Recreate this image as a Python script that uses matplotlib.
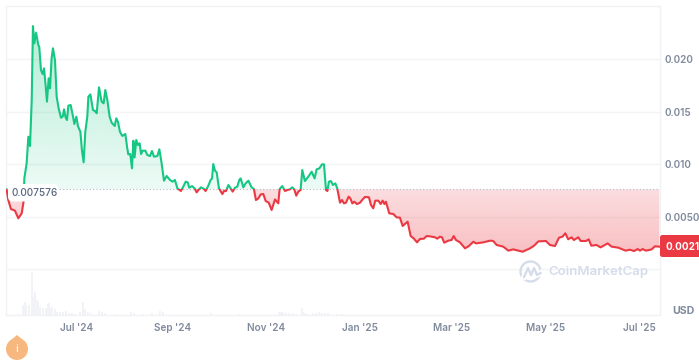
import numpy as np
from matplotlib import pyplot as plt
from matplotlib.colors import to_rgb
from matplotlib.patches import Rectangle, FancyBboxPatch, Circle, Arc, Polygon

plt.rcParams['font.family'] = ['Inter', 'DejaVu Sans']

# days since 1 Jul 2024
days = [-45.7, -44.6, -42.9, -40.3, -38.1, -35.9, -34.6, -34.4, -34.2, -32.7, -31.6, -30.5, -29.4, -28.6, -27.7, -26.6,
        -25.1, -24.5, -23.4, -22.3, -21.4, -20.3, -19.5, -18.4, -17.5, -16.5, -15.6, -14.3, -13.2, -11.9, -10.4, -9.3,
        -8.4, -7.4, -6.5, -5.6, -4.1, -2.8, -1.7, -0.4, 0.6, 2.2, 3.2, 4.3, 5.4, 6.7, 7.4, 8.7, 10.4, 11.7, 12.8, 14.3,
        16.0, 17.3, 18.4, 19.7, 21.2, 22.5, 24.5, 25.5, 26.6, 27.9, 29.4, 31.4, 32.5, 33.3, 34.6, 35.7, 36.6, 37.4,
        38.5, 39.6, 40.7, 41.6, 42.6, 44.4, 45.7, 47.4, 48.7, 50.0, 52.2, 53.5, 54.8, 56.5, 58.2, 60.4, 62.1, 63.6,
        65.2, 67.5, 69.0, 70.6, 71.9, 72.9, 74.7, 76.4, 77.7, 79.2, 80.5, 82.3, 83.5, 85.3, 86.8, 87.7, 88.5, 89.6,
        90.7, 92.2, 94.4, 95.5, 96.8, 98.3, 99.8, 101.1, 102.6, 104.1, 105.4, 106.3, 108.0, 109.5, 111.3, 113.4, 114.9,
        116.2, 117.8, 119.3, 121.0, 122.5, 124.5, 126.4, 128.6, 130.7, 131.6, 133.3, 135.1, 136.6, 138.3, 139.8, 141.1,
        142.4, 143.7, 145.2, 146.3, 148.0, 150.2, 152.4, 154.3, 155.6, 157.4, 159.1, 160.4, 161.7, 162.6, 163.6, 164.9,
        166.2, 167.8, 169.0, 170.8, 172.1, 173.4, 174.7, 176.4, 177.5, 178.8, 180.1, 181.8, 183.8, 185.5, 187.0, 189.6,
        190.9, 192.4, 193.7, 195.7, 197.2, 198.5, 199.6, 200.6, 202.8, 205.4, 207.6, 209.7, 211.5, 214.7, 216.7, 218.8,
        220.8, 222.7, 225.3, 227.0, 229.2, 232.5, 234.0, 235.7, 237.0, 238.5, 241.1, 243.3, 244.6, 246.1, 248.7, 252.0,
        254.5, 257.4, 259.1, 263.9, 268.2, 270.3, 272.5, 276.8, 280.1, 283.3, 286.6, 289.4, 294.2, 296.8, 299.6, 304.5,
        307.1, 310.4, 313.0, 315.3, 317.1, 319.0, 321.2, 322.7, 325.5, 327.1, 330.5, 332.3, 334.0, 337.4, 340.0, 344.6,
        347.2, 351.5, 356.3, 359.1, 361.7, 364.1, 365.6, 367.3, 369.5, 373.2, 375.3, 378.2]
prices = [.007576, .00657, .00571, .00556, .00483, .00530, .00651, .007576, .00863, .01006, .01260, .01171, .01610, .02314, .02149, .02251,
          .02133, .02117, .01895, .01857, .01911, .01737, .01594, .01816, .01721, .02006, .02102, .01990, .01641, .01530, .01441, .01451,
          .01521, .01444, .01419, .01556, .01562, .01467, .01381, .01451, .01362, .01308, .01133, .01016, .01308, .01451, .01641, .01663, .01514, .01505, .01483, .01730,
          .01594, .01578, .01705, .01610, .01451, .01394, .01362, .01435, .01403, .01308, .01267, .01286, .01165, .01092, .01095, .00959, .01222, .01063,
          .01229, .01181, .01197, .01095, .01127, .01127, .01086, .01076, .01124, .01070, .01076, .01140, .01022, .00841, .00886, .00848, .00832, .00848,
          .00768, .00743, .00784, .00832, .00825, .00775, .00790, .00768, .00730, .00759, .00778, .00765, .00743, .00794, .00848, .00863, .01000, .00937,
          .00921, .00768, .00714, .00743, .00743, .00800, .00768, .00737, .00775, .00784, .00848, .00863, .00778, .00816, .00841, .00778, .00762,
          .00657, .00673, .00711, .00714, .00648, .00632, .00562, .00663, .00625, .00762, .00790, .00743, .00752, .00759, .00778, .00759,
          .00698, .00737, .00752, .00943, .00838, .00879, .00927, .00863, .00949, .00959, .00997, .00997, .00752, .00743, .00832, .00838,
          .00800, .00816, .00768, .00632, .00657, .00625, .00632, .00689, .00673, .00625, .00641, .00619, .00632, .00663, .00686, .00683,
          .00610, .00578, .00651, .00651, .00619, .00651, .00619, .00641, .00530, .00524, .00492, .00489, .00410, .00451, .00314, .00289,
          .00254, .00286, .00289, .00314, .00311, .00302, .00289, .00308, .00302, .00251, .00270, .00276, .00314, .00276, .00254, .00197,
          .00219, .00260, .00244, .00254, .00270, .00267, .00229, .00213, .00175, .00187, .00175, .00165, .00197, .00222, .00263, .00267,
          .00229, .00219, .00298, .00308, .00340, .00283, .00302, .00276, .00302, .00267, .00267, .00283, .00222, .00229, .00206, .00244,
          .00213, .00203, .00175, .00184, .00171, .00190, .00175, .00190, .00175, .00187, .00216, .00213]

vol_days = [-38, -35, -34, -33, -31, -29, -28, -27, -26, -25, -24, -22, -20, -19, -18, -17, -16, -14, -13, -11, -9, -7, -5, -3, -1, 2, 4, 5,
            7, 9, 14, 16, 18, 25, 35, 37, 43, 49, 54, 56, 87, 105, 131, 132, 133, 134, 136, 138, 140, 142, 146, 147, 148, 150,
            153, 155, 157, 159, 161, 163, 169, 172]
vol_values = [3, 30, 38, 28, 30, 130, 55, 68, 45, 40, 25, 20, 22, 33, 35, 20, 25, 18, 10, 8, 8, 12, 5, 5, 4, 8, 38, 18,
              8, 5, 12, 8, 7, 3, 10, 5, 4, 5, 12, 8, 6, 3, 8, 10, 10, 9, 7, 6, 5, 4, 22, 8, 6, 4,
              5, 7, 8, 7, 7, 5, 3, 3]

yticks = [0, 0.005, 0.010, 0.015, 0.020]
ytick_labels = ['', '0.0050', '0.010', '0.015', '0.020']
xticks = [0, 62, 123, 184, 243, 304, 365]
xtick_labels = ["Jul '24", "Sep '24", "Nov '24", "Jan '25", "Mar '25", "May '25", "Jul '25"]
base_price = 0.007576
last_label = '0.0021'

W, H = 699, 361
L, R, T, B = 6, 660, 6, 315
xlim = (-46.1, 378.6)
ylim = (-0.00438, 0.02505)
green = '#16c784'
red = '#ea3943'
grey = '#808a9d'
border = '#f0f2f5'

fig = plt.figure(figsize=(W / 100, H / 100), dpi=100)

# volume strip sits under the price panel
axv = fig.add_axes([L / W, 1 - B / H, (R - L) / W, 46 / H])
axv.bar(vol_days, vol_values, width=1.3, color='#f1f3f6')
axv.set_xlim(xlim)
axv.set_ylim(0, 138)
axv.axis('off')

ax = fig.add_axes([L / W, 1 - B / H, (R - L) / W, (B - T) / H])
ax.patch.set_alpha(0)
ax.set_xlim(xlim)
ax.set_ylim(ylim)
ax.set_yticks(yticks)
ax.set_yticklabels(ytick_labels)
ax.set_xticks(xticks)
ax.set_xticklabels(xtick_labels)
ax.yaxis.tick_right()
ax.tick_params(length=0, labelcolor=grey, labelsize=7.2)
ax.tick_params(axis='x', pad=6)
ax.tick_params(axis='y', pad=3.5)
for lab in ax.get_xticklabels() + ax.get_yticklabels():
    lab.set_fontweight('semibold')
ax.grid(axis='y', color='#f3f4f6', lw=1)
ax.set_axisbelow(True)
for s in ax.spines.values():
    s.set_color(border)
    s.set_linewidth(1)

# gradient fills clipped to the area between line and base price
top = max(prices)
grad_g = np.zeros((256, 2, 4))
grad_g[..., :3] = to_rgb(green)
grad_g[..., 3] = np.linspace(0.08, 0.32, 256)[:, None]
im = ax.imshow(grad_g, origin='lower', aspect='auto', extent=[xlim[0], xlim[1], base_price, top], zorder=1)
up = np.maximum(prices, base_price)
poly_g = ax.fill_between(days, up, base_price, color='none')
im.set_clip_path(poly_g.get_paths()[0], ax.transData)

low = min(prices)
grad_r = np.zeros((256, 2, 4))
grad_r[..., :3] = to_rgb(red)
grad_r[..., 3] = np.linspace(0.32, 0.17, 256)[:, None]
im2 = ax.imshow(grad_r, origin='lower', aspect='auto', extent=[xlim[0], xlim[1], low, base_price], zorder=1)
down = np.minimum(prices, base_price)
poly_r = ax.fill_between(days, down, base_price, color='none')
im2.set_clip_path(poly_r.get_paths()[0], ax.transData)
ax.set_xlim(xlim)
ax.set_ylim(ylim)

ax.plot([xlim[0], xlim[1]], [base_price, base_price], color='#b3bac7', lw=0.8, ls=(0, (1, 2)), zorder=2)

line_g, = ax.plot(days, prices, color=green, lw=1.5, zorder=3, solid_joinstyle='round')
line_r, = ax.plot(days, prices, color=red, lw=1.5, zorder=3, solid_joinstyle='round')
line_g.set_clip_path(Rectangle((xlim[0], base_price), xlim[1] - xlim[0], ylim[1] - base_price, transform=ax.transData))
line_r.set_clip_path(Rectangle((xlim[0], ylim[0]), xlim[1] - xlim[0], base_price - ylim[0], transform=ax.transData))

# overlay in pixels for labels and decorations
ov = fig.add_axes([0, 0, 1, 1])
ov.set_xlim(0, W)
ov.set_ylim(H, 0)
ov.axis('off')
ov.patch.set_alpha(0)

ov.add_patch(FancyBboxPatch((8, 184), 50, 17.5, boxstyle='round,pad=0,rounding_size=5', fc='white', ec='none', zorder=5))
ov.text(12, 192.5, '0.007576', color='#58667e', fontsize=7.2, fontweight='medium', va='center', ha='left', zorder=6)

ov.add_patch(FancyBboxPatch((660, 235), 45, 22, boxstyle='round,pad=0,rounding_size=2.5', fc=red, ec='none', zorder=5))
ov.text(665, 246.5, last_label, color='white', fontsize=7.2, fontweight='bold', va='center', ha='left', zorder=6)

ov.text(672, 311, 'USD', color=grey, fontsize=7.6, fontweight='bold', va='center', ha='left')

# watermark
wm = '#d5dcea'
ov.add_patch(Arc((530.5, 271.5), 20, 20, theta1=0, theta2=360, color=wm, lw=1.7))
ov.plot([524, 528, 531, 534, 537, 540.5], [277, 268, 275, 268, 275, 273], color='white', lw=4, zorder=4)
ov.plot([524, 528, 531, 534, 537, 540.5], [277, 268, 275, 268, 275, 273], color=wm, lw=1.7, zorder=5)
ov.text(548, 272, 'CoinMarketCap', color=wm, fontsize=9.5, fontweight='semibold', va='center', ha='left')

# info badge
ov.add_patch(Circle((17, 349), 11, fc='#f6b87e', ec='none'))
ov.add_patch(Polygon([[11, 340], [17, 335], [23, 340]], fc='#f6b87e', ec='none'))
ov.text(17, 349, 'i', color='white', fontsize=8, ha='center', va='center')

plt.savefig('out.png', dpi=100)
